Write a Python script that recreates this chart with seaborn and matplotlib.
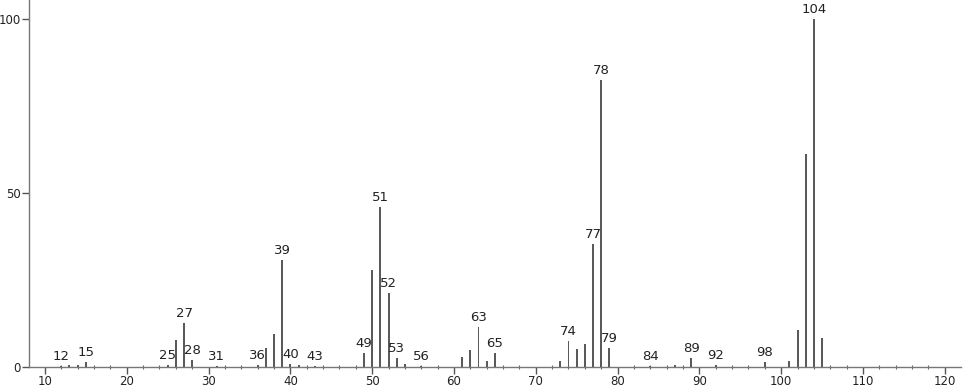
import matplotlib
matplotlib.use("Agg")
import matplotlib.pyplot as plt
import seaborn as sns
import pandas as pd

mz = [12, 13, 14, 15, 25, 26, 27, 28, 31, 36, 37, 38, 39, 40, 41, 43,
      49, 50, 51, 52, 53, 54, 56, 61, 62, 63, 64, 65, 73, 74, 75, 76,
      77, 78, 79, 84, 87, 89, 92, 98, 101, 102, 103, 104, 105]
intensity = [0.4, 0.5, 0.6, 1.5, 0.6, 7.8, 12.6, 2.0, 0.3, 0.5, 5.5, 9.5, 30.7, 0.9, 0.5, 0.4,
             4.0, 28.0, 46.0, 21.3, 2.6, 1.0, 0.4, 2.9, 4.9, 11.5, 1.7, 4.0, 1.7, 7.5, 5.2, 6.6,
             35.3, 82.5, 5.5, 0.3, 0.6, 2.6, 0.5, 1.5, 1.7, 10.6, 61.2, 100.0, 8.3]
labels = [12, 15, 25, 27, 28, 31, 36, 39, 40, 43, 49, 51, 52, 53, 56,
          63, 65, 74, 77, 78, 79, 84, 89, 92, 98, 104]
x_ticks = [10, 20, 30, 40, 50, 60, 70, 80, 90, 100, 110, 120]
y_ticks = [0, 50, 100]

sns.set_style("white")
plt.rcParams['font.family'] = ['DejaVu Sans']

df = pd.DataFrame({"mz": mz, "intensity": intensity})
fig = plt.figure(figsize=(9.66, 3.89), dpi=100)
ax = fig.add_axes([0.030, 0.0566, 0.965, 0.9434])
sns.barplot(data=df, x="mz", y="intensity", native_scale=True, width=0.24,
            color="#5a5a5a", saturation=1, errorbar=None, ax=ax, linewidth=0)

lookup = dict(zip(mz, intensity))
for m in labels:
    ax.text(m, lookup.get(m, 0) + 0.8, str(m), ha="center", va="bottom",
            fontsize=9.5, color="#222222")

ax.set_xlim(8.05, 122)
ax.set_ylim(0, 105.5)
ax.set_xticks(x_ticks)
ax.set_xticklabels([str(t) for t in x_ticks])
ax.set_xticks(list(range(10, 122, 2)), minor=True)
ax.set_yticks(y_ticks)
ax.set_yticklabels([str(t) for t in y_ticks])
ax.set_xlabel("")
ax.set_ylabel("")
for s in ["top", "right"]:
    ax.spines[s].set_visible(False)
for s in ["left", "bottom"]:
    ax.spines[s].set_color("#777777")
    ax.spines[s].set_linewidth(1.0)
ax.tick_params(axis="x", which="major", direction="out", length=5, width=1,
               color="#555555", labelsize=8.5, labelcolor="#222222", pad=1, bottom=True)
ax.tick_params(axis="x", which="minor", direction="inout", length=3, width=0.8,
               color="#666666", bottom=True)
ax.tick_params(axis="y", which="major", direction="out", length=5, width=1,
               color="#555555", labelsize=8.5, labelcolor="#222222", pad=1, left=True)
ax.grid(False)
fig.savefig("out.png", dpi=100)
